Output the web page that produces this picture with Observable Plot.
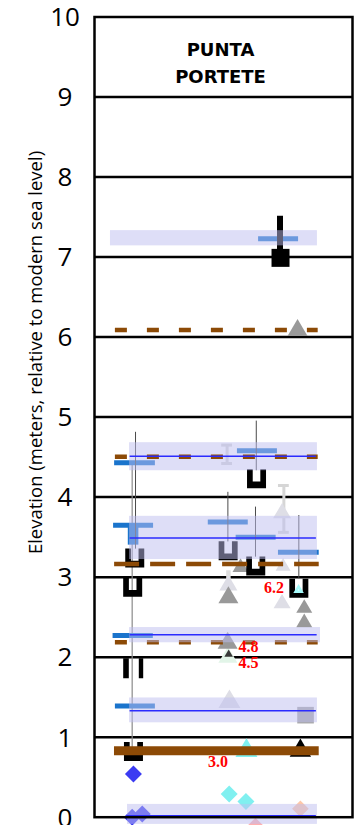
<!DOCTYPE html>
<html><head><meta charset="utf-8">
<script src="https://cdn.jsdelivr.net/npm/d3@7"></script>
<script src="https://cdn.jsdelivr.net/npm/@observablehq/plot@0.6"></script>
<style>body{margin:0;background:#fff} #chart svg{display:block}</style>
</head><body><div id="chart"></div>
<script>
// ---------- data (x: relative horizontal position 0-100, y: elevation in m) ----------
const yTicks = [0, 1, 2, 3, 4, 5, 6, 7, 8, 9, 10];
const gridLevels = [1, 2, 3, 4, 5, 6, 7, 8, 9];
const titleLines = ["PUNTA", "PORTETE"];
const yLabel = "Elevation (meters, relative to modern sea level)";

// lavender range bands
const bandX1 = [6.2, 13.6, 13.6, 13.6, 13.6, 12.8];
const bandX2 = [86.4, 86.4, 86.4, 87.6, 86.4, 86.4];
const bandLo = [7.14, 4.33, 3.22, 2.18, 1.18, -0.09];
const bandHi = [7.33, 4.68, 3.76, 2.37, 1.49, 0.16];
// blue median lines
const medianY = [4.51, 3.49, 2.28, 1.33, 0.02];
const medianX1 = [13.8, 13.8, 13.8, 13.8, 12.8];
const medianX2 = [86.0, 86.0, 86.3, 86.0, 86.0];

// brown dashed levels
const shortDashY = [6.09, 4.505, 2.186];
const longDashY = [3.165];
const solidBrownY = [0.831];

// blue horizontal indicators
const barsY  = [7.23, 4.43, 4.58, 3.65, 3.69, 3.50, 3.31, 2.27, 1.39];
const barsX1 = [63.6, 7.8, 55.4, 7.4, 44.1, 54.9, 71.3, 7.2, 8.1];
const barsX2 = [79.1, 23.6, 70.9, 22.9, 59.6, 70.4, 87.1, 22.8, 23.6];
const blueBlock = [[13.1, 17.2, 3.40, 3.65]];

// black markers
const uMarkers = [[62.8, 4.23], [14.8, 2.875], [51.8, 3.33], [62.5, 3.14], [15.6, 3.24], [15.1, 0.82], [79.2, 2.86]];
const prongMarkers = [[15.0, 1.86]];
const blackSquares = [[72.1, 6.99]];
const blackBars = [[71.9, 7.0, 7.51]];

// triangles
const grayTriangles = [[78.7, 6.12, 10], [51.9, 2.78, 10], [56.6, 3.15, 8], [81.3, 2.64, 8], [81.3, 2.46, 8], [51.6, 2.21, 10]];
const lightTriangles = [[72.7, 3.83, 9], [73.1, 3.16, 7.5], [72.7, 2.70, 8.5], [51.9, 2.93, 9], [52.3, 1.48, 11]];
const mintTriangles = [[51.7, 2.03, 9.5]];
const darkTinyTriangles = [[52.0, 2.05, 4.3]];
const cyanTriangles = [[58.9, 0.87, 11]];
const blackTriangles = [[79.8, 0.87, 10.7]];
const openTriangles = [[79.1, 2.85, 9]];
const graySquares = [[81.8, 1.275]];

// diamonds
const blueDiamonds = [[15.1, 0.54], [14.6, 0.0], [18.5, 0.04]];
const cyanDiamonds = [[52.2, 0.29], [58.7, 0.196]];
const peachDiamonds = [[79.8, 0.105]];
const pinkDiamonds = [[62.4, -0.11]];

// error bars
const darkLines = [[15.9, 4.81, 3.35], [62.7, 4.95, 4.33], [51.7, 4.06, 3.44], [62.4, 3.875, 3.25], [79.2, 3.77, 2.98]];
const grayLines = [[14.6, 4.40, 0.87]];
const lightIBeams = [[73.4, 4.145, 3.56], [51.4, 4.65, 4.42]];
const lightStrips = [[51.9, 3.08, 2.70]];

// red labels
const redLabels = [["6.2", 69.6, 2.865], ["4.8", 59.7, 2.125], ["4.5", 59.7, 1.93], ["3.0", 47.9, 0.69]];

// ---------- symbols ----------
const sym = f => ({draw(ctx, size) { f(ctx, Math.sqrt(size / Math.PI)); }});
const triSym = sym((c, r) => { const h = r * 0.85; c.moveTo(0, -h); c.lineTo(r, h); c.lineTo(-r, h); c.closePath(); });
const diaSym = sym((c, r) => { c.moveTo(0, -r); c.lineTo(r, 0); c.lineTo(0, r); c.lineTo(-r, 0); c.closePath(); });
const sqSym = sym((c, r) => { c.rect(-r, -r, 2 * r, 2 * r); });
const uSym = sym((c, r) => { const w = r * 0.4, d = r * 0.3; c.moveTo(-r, -r); c.lineTo(-w, -r); c.lineTo(-w, d); c.lineTo(w, d); c.lineTo(w, -r); c.lineTo(r, -r); c.lineTo(r, r); c.lineTo(-r, r); c.closePath(); });
const prongSym = sym((c, r) => { c.rect(-r, -r, r * 0.56, 2 * r); c.rect(r * 0.56, -r, r * 0.44, 2 * r); });

const brown = "#8c4a06";
const barBlue = "#1a74cc";
const bands = bandX1.map((x1, i) => ({x1, x2: bandX2[i], y1: bandLo[i], y2: bandHi[i]}));
const medians = medianY.map((y, i) => ({y, x1: medianX1[i], x2: medianX2[i]}));
const bars = barsY.map((y, i) => ({y, x1: barsX1[i], x2: barsX2[i]}));
const triDots = (data, fill, extra = {}) => data.map(d => Plot.dot([d], {x: d[0], y: d[1], r: d[2], symbol: triSym, fill, ...extra}));
const fr = "Open Sans, sans-serif";

const chart = Plot.plot({
  width: 359, height: 825,
  marginLeft: 94, marginRight: 7, marginTop: 16.5, marginBottom: 8.3,
  x: {domain: [0, 100], axis: null},
  y: {domain: [0, 10], axis: null},
  style: {background: "white", overflow: "visible"},
  marks: [
    Plot.ruleY(gridLevels, {stroke: "black", strokeWidth: 2.5}),
    // error bars
    Plot.ruleX(grayLines, {x: d => d[0], y1: d => d[1], y2: d => d[2], stroke: "#8a8a8a", strokeWidth: 1.2}),
    Plot.ruleX(lightIBeams, {x: d => d[0], y1: d => d[1], y2: d => d[2], stroke: "#d6d6d6", strokeWidth: 3}),
    Plot.ruleY(lightIBeams, {y: d => d[1], x1: d => d[0] - 2.1, x2: d => d[0] + 2.1, stroke: "#d6d6d6", strokeWidth: 3}),
    Plot.ruleY(lightIBeams, {y: d => d[2], x1: d => d[0] - 2.1, x2: d => d[0] + 2.1, stroke: "#d6d6d6", strokeWidth: 3}),
    Plot.ruleX(lightStrips, {x: d => d[0], y1: d => d[1], y2: d => d[2], stroke: "#dedede", strokeWidth: 4.5}),
    // triangles / squares / diamonds
    ...triDots(lightTriangles, "#dedee6"),
    ...triDots(mintTriangles, "#e2f5e8"),
    ...triDots(grayTriangles, "#999999"),
    ...triDots(darkTinyTriangles, "#3a3a3a"),
    ...triDots(cyanTriangles, "#7ff2f2"),
    ...triDots(blackTriangles, "black"),
    Plot.dot(graySquares, {x: d => d[0], y: d => d[1], r: 8.3, symbol: sqSym, fill: "#a8a8a8"}),
    Plot.dot(blueDiamonds, {x: d => d[0], y: d => d[1], r: 8.5, symbol: diaSym, fill: "#3b3bf2"}),
    Plot.dot(cyanDiamonds, {x: d => d[0], y: d => d[1], r: 8.5, symbol: diaSym, fill: "#80f0f0"}),
    Plot.dot(peachDiamonds, {x: d => d[0], y: d => d[1], r: 8.3, symbol: diaSym, fill: "#ffc8a8"}),
    Plot.dot(pinkDiamonds, {x: d => d[0], y: d => d[1], r: 8.3, symbol: diaSym, fill: "#ffb0b0"}),
    // blue indicators
    Plot.ruleY(bars, {y: "y", x1: "x1", x2: "x2", stroke: barBlue, strokeWidth: 5}),
    Plot.rect(blueBlock, {x1: d => d[0], x2: d => d[1], y1: d => d[2], y2: d => d[3], fill: barBlue}),
    // black markers
    Plot.ruleX(blackBars, {x: d => d[0], y1: d => d[1], y2: d => d[2], stroke: "black", strokeWidth: 6}),
    Plot.ruleX(darkLines, {x: d => d[0], y1: d => d[1], y2: d => d[2], stroke: "#4a4a4a", strokeWidth: 1}),
    Plot.dot(uMarkers, {x: d => d[0], y: d => d[1], r: 9.5, symbol: uSym, fill: "black"}),
    Plot.dot(prongMarkers, {x: d => d[0], y: d => d[1], r: 10, symbol: prongSym, fill: "black"}),
    Plot.ruleY([shortDashY[2]], {x1: 8.1, x2: 86.7, stroke: brown, strokeWidth: 4.5, strokeDasharray: "12,20"}),
    // lavender bands (semi-transparent, over the markers)
    Plot.rect(bands, {x1: "x1", x2: "x2", y1: "y1", y2: "y2", fill: "#bebef0", fillOpacity: 0.5}),
    Plot.dot(blackSquares, {x: d => d[0], y: d => d[1], r: 9, symbol: sqSym, fill: "black"}),
    // brown levels
    Plot.ruleY(shortDashY.slice(0, 2), {x1: 8.1, x2: 86.7, stroke: brown, strokeWidth: 4.5, strokeDasharray: "12,20"}),
    Plot.ruleY(longDashY, {x1: 7.8, x2: 87.1, stroke: brown, strokeWidth: 4.5, strokeDasharray: "25,11"}),
    Plot.ruleY(solidBrownY, {x1: 7.75, x2: 87.1, stroke: brown, strokeWidth: 9}),
    // medians
    Plot.ruleY(medians, {y: "y", x1: "x1", x2: "x2", stroke: "#2b2bff", strokeWidth: 1.4}),
    Plot.dot(openTriangles, {x: d => d[0], y: d => d[1], r: d => d[2], symbol: triSym, fill: "none", stroke: "#a6fbfb", strokeWidth: 2.6}),
    // red labels
    Plot.text(redLabels, {x: d => d[1], y: d => d[2], text: d => d[0], fill: "#ff0000", fontSize: 16, fontWeight: "bold", fontFamily: "Liberation Serif, serif"}),
    Plot.frame({stroke: "black", strokeWidth: 2.5}),
    // axis text
    Plot.text(yTicks, {y: d => d, text: d => String(d), frameAnchor: "left", dx: -29.5, dy: 1, fontSize: 26, fontFamily: fr, fill: "black", textAnchor: "middle"}),
    Plot.text([yLabel], {frameAnchor: "left", dx: -58.2, dy: -64.6, rotate: -90, textAnchor: "middle", fontSize: 18.5, fontFamily: fr, fill: "black"}),
    Plot.text([titleLines[0]], {frameAnchor: "top", dx: -3, dy: 26.7, fontSize: 18, fontWeight: "bold", fontFamily: "DejaVu Sans, sans-serif", fill: "black"}),
    Plot.text([titleLines[1]], {frameAnchor: "top", dx: -3, dy: 53.2, fontSize: 18, fontWeight: "bold", fontFamily: "DejaVu Sans, sans-serif", fill: "black"})
  ]
});
document.getElementById("chart").append(chart);
</script></body></html>
